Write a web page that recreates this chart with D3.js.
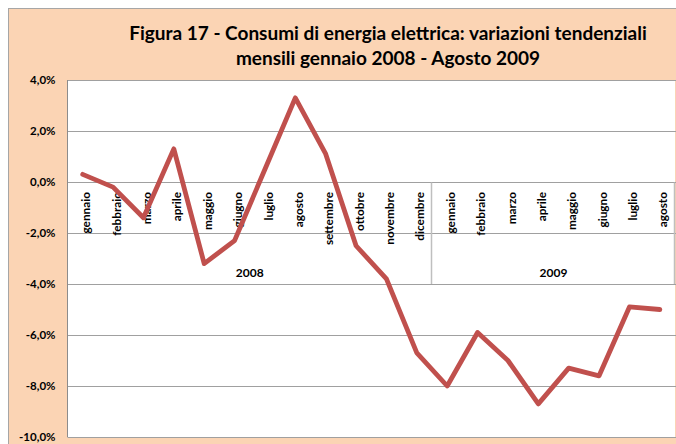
<!DOCTYPE html>
<html><head><meta charset="utf-8">
<script src="https://cdn.jsdelivr.net/npm/d3@7"></script>
<style>body{margin:0;background:#fff}svg{display:block}</style>
</head><body>
<script>
const months = ["gennaio","febbraio","marzo","aprile","maggio","giugno","luglio","agosto","settembre","ottobre","novembre","dicembre",
                "gennaio","febbraio","marzo","aprile","maggio","giugno","luglio","agosto"];
const years = ["2008","2009"];
const yearCounts = [12, 8];
const values = [0.3,-0.2,-1.4,1.3,-3.2,-2.3,0.5,3.3,1.1,-2.5,-3.8,-6.7,
                -8.0,-5.9,-7.0,-8.7,-7.3,-7.6,-4.9,-5.0];
const yTicks = [4,2,0,-2,-4,-6,-8,-10];
const titleLines = ["Figura 17 - Consumi di energia elettrica: variazioni tendenziali","mensili gennaio 2008 - Agosto 2009"];

const W = 676, H = 444;
const svg = d3.select("body").append("svg").attr("width", W).attr("height", H);
const font = "Lato, 'Open Sans', sans-serif";

// frame
svg.append("rect").attr("x", 8.5).attr("y", 8.5).attr("width", W).attr("height", H)
  .attr("fill", "#FBD4B4").attr("stroke", "#A6A6A6").attr("stroke-width", 1);

const L = 67.5, R = 675, T = 80, B = 437;
const x = d3.scaleBand().domain(d3.range(months.length)).range([L, R]).paddingInner(0).paddingOuter(0);
const y = d3.scaleLinear().domain([-10, 4]).range([B, T]);

svg.append("rect").attr("x", L).attr("y", T).attr("width", R - L).attr("height", B - T).attr("fill", "#fff");

// grid
svg.append("g").selectAll("line").data(yTicks).join("line")
  .attr("x1", L).attr("x2", R + 1)
  .attr("y1", d => Math.round(y(d)) + 0.5).attr("y2", d => Math.round(y(d)) + 0.5)
  .attr("stroke", "#A0A0A0").attr("stroke-width", 1);

// left axis line
svg.append("line").attr("x1", L).attr("x2", L).attr("y1", T).attr("y2", B)
  .attr("stroke", "#8C8C8C").attr("stroke-width", 1);

// y axis labels
const yAxis = d3.axisLeft(y).tickValues(yTicks).tickSize(0).tickPadding(12)
  .tickFormat(d => d3.format(".1f")(d).replace(".", ",").replace("−", "-") + "%");
const ya = svg.append("g").attr("transform", `translate(${L},0)`).call(yAxis);
ya.select(".domain").remove();
ya.selectAll("text").attr("font-family", font).attr("font-weight", "bold")
  .attr("font-size", 11.5).attr("fill", "#000");

// group separators
const y0 = Math.round(y(0)) + 0.5, yLow = Math.round(y(-4));
let idx = 0;
const bounds = [];
yearCounts.forEach((c, i) => { bounds.push({ start: idx, end: idx + c - 1, label: years[i] }); idx += c; });
bounds.forEach(b => {
  const xr = x(b.end) + x.bandwidth();
  svg.append("line").attr("x1", Math.round(xr) - 0.5).attr("x2", Math.round(xr) - 0.5)
    .attr("y1", y0).attr("y2", yLow).attr("stroke", "#BFBFBF").attr("stroke-width", 1.5);
  const xc = (x(b.start) + xr) / 2;
  svg.append("text").attr("x", xc).attr("y", 277).attr("text-anchor", "middle")
    .attr("font-family", font).attr("font-weight", "bold").attr("font-size", 12).text(b.label);
});

// category labels
svg.append("g").selectAll("text").data(months).join("text")
  .attr("transform", (d, i) => `translate(${x(i) + x.bandwidth() / 2 + 3.5},192) rotate(-90)`)
  .attr("text-anchor", "end").attr("dy", "0.35em")
  .attr("font-family", font).attr("font-weight", "bold").attr("font-size", 11.8).text(d => d);

// line
const line = d3.line().x((d, i) => x(i) + x.bandwidth() / 2).y(d => y(d));
svg.append("path").datum(values).attr("d", line).attr("fill", "none")
  .attr("stroke", "#C0504D").attr("stroke-width", 4.8).attr("stroke-linejoin", "round").attr("stroke-linecap", "round");

// title
svg.append("g").selectAll("text").data(titleLines).join("text")
  .attr("x", 388).attr("y", (d, i) => 39.5 + i * 25).attr("text-anchor", "middle")
  .attr("font-family", font).attr("font-weight", "bold").attr("font-size", 19).text(d => d);
</script>
</body></html>
